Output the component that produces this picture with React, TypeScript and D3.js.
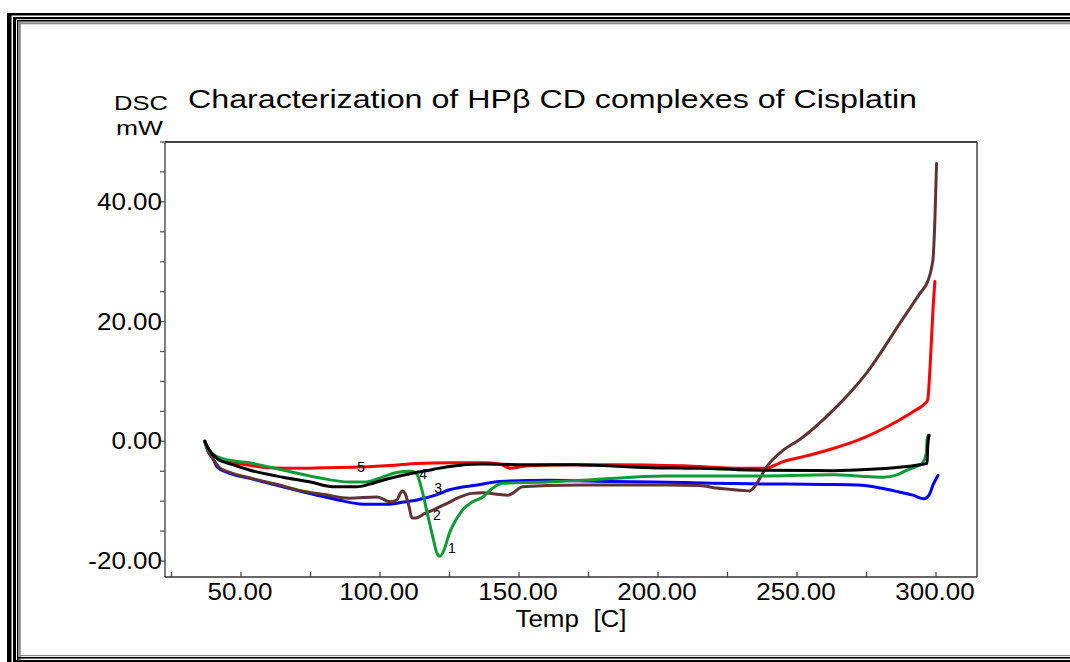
import React from "react";
import * as d3 from "d3";

type Pt = [number, number];

// curve 1 (green)
const curve1: Pt[] = [
  [37, 0], [38, -1.2], [40, -2.2], [44, -3], [53, -3.6], [65, -4.8], [77, -6], [89, -6.8],
  [95, -6.8], [99, -6.3], [106, -5.2], [111, -5.0], [113, -5.3], [115, -8], [117, -12],
  [119, -16], [120.5, -18.7], [121.6, -19.2], [123, -18.2], [125, -15.3], [127.5, -13],
  [130, -11.3], [133, -10.2], [137, -9.3], [140, -8], [144, -7], [160, -6.8], [173, -6.5],
  [203, -5.8], [233, -5.8], [263, -5.6], [275, -5.9], [281, -6], [286, -5.6], [289.6, -4.8],
  [293, -4.2], [295, -3.7], [296.5, -2], [296.8, 0.2], [297.2, 1],
];

// curve 2 (brown)
const curve2: Pt[] = [
  [37, 0], [38, -1.5], [40, -3], [42, -4.3], [46, -5.2], [53, -6.1], [62, -7.1], [71, -8.2],
  [80, -8.9], [89, -9.5], [99, -9.3], [103.6, -10.1], [106, -9.8], [108, -8.3], [109, -8.7],
  [110.5, -11], [111.5, -12.8], [113, -12.8], [116, -12.1], [119, -11.5], [124, -10.4],
  [128.8, -9.3], [133, -8.7], [137, -8.6], [143, -8.9], [146, -9], [151.4, -7.6], [160, -7.4],
  [173, -7.3], [203, -7.3], [215, -7.4], [221, -7.8], [230.6, -8.2], [233, -8.3], [235, -7.4],
  [239, -4.3], [245, -1.5], [251, 0.3], [263, 5.2], [275, 11.4], [287, 19.7], [294.2, 24.7],
  [297, 26.7], [298.5, 29.2], [299, 30.8], [299.6, 37], [300.2, 46.4],
];

// curve 3 (blue)
const curve3: Pt[] = [
  [37, 0], [38, -1.5], [40, -3], [41.4, -4.3], [45, -5.2], [53.2, -6.2], [65, -7.6],
  [77.3, -9], [85, -9.8], [94, -10.5], [103.6, -10.5], [108, -10.2], [113.3, -9.8],
  [120, -9], [125, -8.1], [135, -7.3], [143, -6.7], [161, -6.5], [183, -6.7], [209, -6.9],
  [233, -7.1], [260, -7.2], [272, -7.3], [280, -7.8], [287, -8.5], [291.7, -9],
  [295.7, -9.6], [297.5, -9], [299, -7.2], [300.7, -5.7],
];

// curve 4 (black)
const curve4: Pt[] = [
  [37, 0], [38, -1], [41.4, -2.9], [47, -3.9], [53, -4.8], [65, -6], [75, -6.8], [83, -7.6],
  [91.7, -7.6], [96, -7.2], [101, -6.5], [107, -5.8], [113, -5.2], [119, -4.7], [125, -4.2],
  [137, -3.8], [150, -3.9], [170, -3.9], [197, -4.4], [215, -4.5], [233, -4.8], [263, -4.9],
  [280, -4.6], [293, -4], [296.8, -3.7], [297, -1], [297.5, 1],
];

// curve 5 (red)
const curve5: Pt[] = [
  [37, 0], [38, -1.3], [40, -2.3], [45, -3.3], [53, -4], [60, -4.4], [71, -4.5], [80, -4.4],
  [93, -4.3], [105, -4], [113, -3.7], [125, -3.6], [137, -3.6], [143, -3.8], [147, -4.5],
  [150, -4.3], [153, -4.1], [170, -3.9], [185, -3.9], [209, -4.1], [230, -4.5], [239, -4.5],
  [242, -4.0], [245, -3.4], [251, -2.7], [257, -2.0], [263, -1.2], [269, -0.3], [275, 0.8],
  [281, 2.1], [287, 3.6], [292, 5.0], [296, 6.3], [297, 6.9], [298, 13.6], [298.9, 21.9],
  [299.6, 26.7],
];

const seriesColors = ["#0f9a38", "#603434", "#0000ff", "#000000", "#ff0000"];
const drawOrder = [4, 2, 1, 0, 3];
const allCurves = [curve1, curve2, curve3, curve4, curve5];

// curve number labels [temp, mW]
const curveLabels: { text: string; x: number; y: number }[] = [
  { text: "1", x: 125.9, y: -17.8 },
  { text: "2", x: 120.5, y: -12.3 },
  { text: "3", x: 120.9, y: -7.8 },
  { text: "4", x: 115.5, y: -5.5 },
  { text: "5", x: 93.2, y: -4.3 },
];

const yLabelTicks = [-20, 0, 20, 40];
const xLabelTicks = [50, 100, 150, 200, 250, 300];

const W = 1070;
const H = 662;
const left = 165, right = 977, top = 142, bottom = 577;
const SX = 1.13; // original text is stretched horizontally

const font = "'Liberation Sans', Arial, sans-serif";

function SText({ x, y, size, anchor = "start", children }: any) {
  return (
    <g transform={`translate(${x},${y}) scale(${SX},1)`}>
      <text x={0} y={0} fontSize={size} textAnchor={anchor} fontFamily={font} fill="#000">
        {children}
      </text>
    </g>
  );
}

export default function App() {
  const x = d3.scaleLinear().domain([22.66, 314.75]).range([left, right]);
  const y = d3.scaleLinear().domain([-22.67, 50]).range([bottom, top]);
  const line = d3.line<Pt>().x((d) => x(d[0])).y((d) => y(d[1])).curve(d3.curveMonotoneX);
  const fmt = (v: number) => d3.format(".2f")(v).replace("\u2212", "-");
  const yMinor = d3.range(-20, 50.01, 5);
  const xMinor = d3.range(25, 300.01, 25);

  return (
    <svg width={W} height={H} style={{ position: "absolute", left: 0, top: 0, background: "#fff" }}>
      <rect width={W} height={H} fill="#fff" />
      {/* frame */}
      <rect x={7} y={13} width={4.5} height={H - 13} fill="#000" />
      <rect x={7} y={13} width={W - 7} height={2.5} fill="#000" />
      <rect x={13} y={17} width={3} height={H - 17} fill="#000" />
      <rect x={13} y={17} width={W - 13} height={2.2} fill="#000" />
      <rect x={17} y={20} width={1.4} height={H - 20} fill="#000" />
      <rect x={17} y={20} width={W - 17} height={1.6} fill="#000" />
      <rect x={18.8} y={22.3} width={2} height={H - 22.3} fill="#8a8a8a" />
      <rect x={18.8} y={22.3} width={W - 18.8} height={2} fill="#8a8a8a" />
      <rect x={18.8} y={655} width={W - 18.8} height={1.2} fill="#8a8a8a" />
      <rect x={17} y={657} width={W - 17} height={1.6} fill="#000" />
      <rect x={13} y={660} width={W - 13} height={2} fill="#000" />

      {/* title */}
      <text x={188} y={108} fontSize={26} fontFamily={font} textLength={729} lengthAdjust="spacingAndGlyphs">
        Characterization of HPβ CD complexes of Cisplatin
      </text>
      <text x={114} y={110} fontSize={21} fontFamily={font} textLength={54} lengthAdjust="spacingAndGlyphs">
        DSC
      </text>
      <text x={116} y={135} fontSize={21} fontFamily={font} textLength={47} lengthAdjust="spacingAndGlyphs">
        mW
      </text>

      {/* plot frame */}
      <line x1={left} x2={right} y1={top} y2={top} stroke="#000" strokeWidth={1.5} />
      <line x1={right} x2={right} y1={top} y2={bottom} stroke="#444" strokeWidth={1.5} />
      <line x1={left} x2={left} y1={top} y2={bottom} stroke="#555" strokeWidth={1.5} />
      <line x1={left} x2={right} y1={bottom} y2={bottom} stroke="#333" strokeWidth={1.5} />

      {yMinor.map((v) => (
        <line key={"yt" + v} x1={left - 5} x2={left} y1={y(v)} y2={y(v)} stroke="#555" strokeWidth={1.3} />
      ))}
      {xMinor.map((v) => (
        <line key={"xt" + v} x1={x(v)} x2={x(v)} y1={bottom - 5} y2={bottom} stroke="#444" strokeWidth={1.3} />
      ))}

      {yLabelTicks.map((v) => (
        <SText key={"yl" + v} x={162} y={y(v) + 8} size={23} anchor="end">
          {fmt(v)}
        </SText>
      ))}
      {xLabelTicks.map((v) => (
        <SText key={"xl" + v} x={x(v) - 1} y={600} size={23} anchor="middle">
          {fmt(v)}
        </SText>
      ))}
      <SText x={571} y={627} size={23} anchor="middle">
        {"Temp\u00a0\u00a0[C]"}
      </SText>

      {/* curves */}
      {drawOrder.map((i) => (
        <path
          key={"c" + i}
          d={line(allCurves[i]) || ""}
          fill="none"
          stroke={seriesColors[i]}
          strokeWidth={3}
          strokeLinejoin="round"
          strokeLinecap="round"
        />
      ))}

      {curveLabels.map((l) => (
        <text
          key={"lab" + l.text}
          x={x(l.x)}
          y={y(l.y)}
          fontSize={14}
          fontFamily={font}
          textAnchor="middle"
          dominantBaseline="central"
        >
          {l.text}
        </text>
      ))}
    </svg>
  );
}
